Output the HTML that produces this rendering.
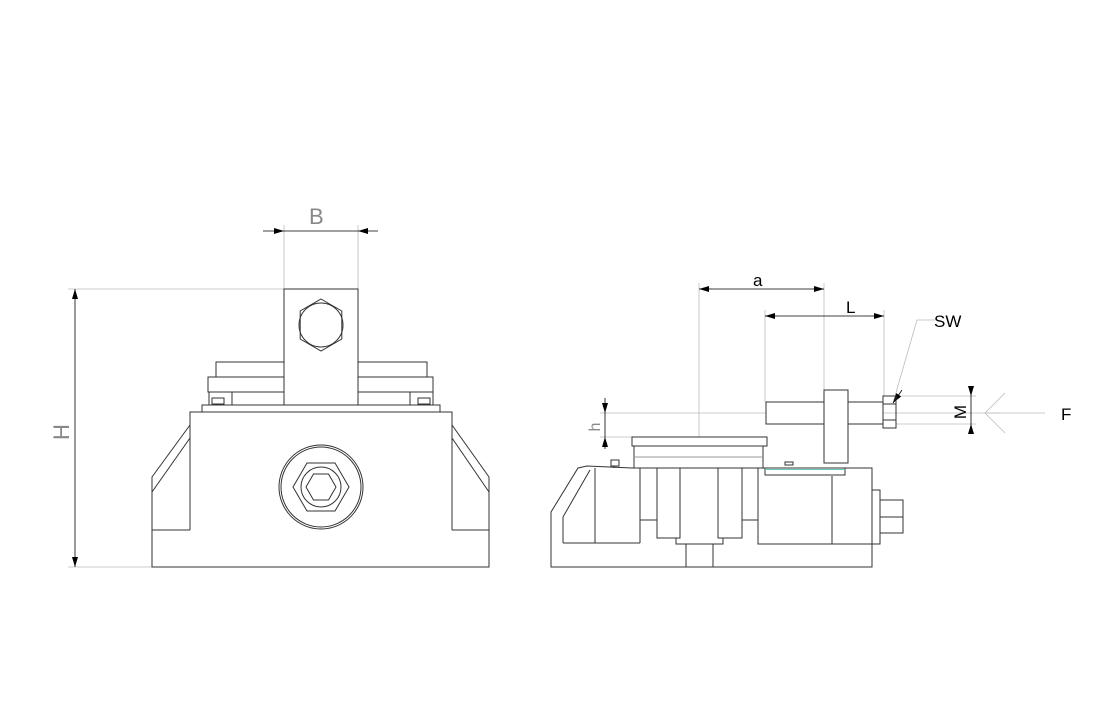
<!DOCTYPE html>
<html><head><style>
html,body{margin:0;padding:0;background:#fff;}
svg{display:block;}
text{font-family:"Liberation Sans",sans-serif;}
</style></head><body>
<svg width="1100" height="724" viewBox="0 0 1100 724" xmlns="http://www.w3.org/2000/svg">
<defs>
<marker id="ar" viewBox="0 0 10 6" refX="10" refY="3" markerWidth="14" markerHeight="6" markerUnits="userSpaceOnUse" orient="auto"><path d="M0,0 L10,3 L0,6 z" fill="#000"/></marker>
</defs>
<g fill="none" stroke="#bbb" stroke-width="0.8">
<line x1="68" y1="289" x2="284" y2="289"/>
<line x1="68" y1="567" x2="152" y2="567"/>
<line x1="284" y1="225" x2="284" y2="289"/>
<line x1="358" y1="225" x2="358" y2="289"/>
<line x1="699" y1="283" x2="699" y2="437"/>
<line x1="824" y1="283" x2="824" y2="390"/>
<line x1="765" y1="310" x2="765" y2="402"/>
<line x1="884" y1="310" x2="884" y2="396"/>
<line x1="600" y1="413" x2="1000" y2="413"/>
<line x1="600" y1="437" x2="632" y2="437"/>
<line x1="896" y1="396" x2="976" y2="396"/>
<line x1="896" y1="424" x2="976" y2="424"/>
<line x1="1005" y1="393" x2="985" y2="413"/>
<line x1="1005" y1="433" x2="985" y2="413"/>
<line x1="985" y1="413" x2="1045" y2="413"/>
<polyline points="935,320 917,320 893,403"/>
</g>
<g fill="none" stroke="#000" stroke-width="0.8">
<line x1="75" y1="300" x2="75" y2="289" marker-end="url(#ar)"/>
<line x1="75" y1="300" x2="75" y2="556"/>
<line x1="75" y1="556" x2="75" y2="567" marker-end="url(#ar)"/>
<line x1="263" y1="231" x2="284" y2="231" marker-end="url(#ar)"/>
<line x1="284" y1="231" x2="358" y2="231"/>
<line x1="378" y1="231" x2="358" y2="231" marker-end="url(#ar)"/>
<line x1="712" y1="289" x2="699" y2="289" marker-end="url(#ar)"/>
<line x1="712" y1="289" x2="811" y2="289"/>
<line x1="811" y1="289" x2="824" y2="289" marker-end="url(#ar)"/>
<line x1="778" y1="316" x2="765" y2="316" marker-end="url(#ar)"/>
<line x1="778" y1="316" x2="871" y2="316"/>
<line x1="871" y1="316" x2="884" y2="316" marker-end="url(#ar)"/>
<line x1="971" y1="386" x2="971" y2="396" marker-end="url(#ar)"/>
<line x1="971" y1="396" x2="971" y2="424"/>
<line x1="971" y1="434" x2="971" y2="424" marker-end="url(#ar)"/>
<line x1="605" y1="398" x2="605" y2="413" marker-end="url(#ar)"/>
<line x1="605" y1="413" x2="605" y2="437"/>
<line x1="605" y1="449" x2="605" y2="437" marker-end="url(#ar)"/>
<line x1="902" y1="390" x2="893" y2="403" marker-end="url(#ar)"/>
</g>
<g fill="none" stroke="#333" stroke-width="1">
<rect x="284" y="289" width="74" height="116" fill="#fff"/>
<polygon points="321,299 341.8,311 341.8,339 321,351 300.2,339 300.2,311"/>
<circle cx="321" cy="325" r="22"/>
<rect x="216" y="362" width="68" height="15"/>
<rect x="358" y="362" width="69" height="15"/>
<polyline points="284,377 208,377 208,392 284,392"/>
<polyline points="358,377 433,377 433,392 358,392"/>
<polyline points="209,405 209,392 232,392 232,405"/>
<rect x="212" y="398" width="12" height="6"/>
<polyline points="433,405 433,392 410,392 410,405"/>
<rect x="418" y="398" width="12" height="6"/>
<rect x="202" y="405" width="238" height="7"/>
<polyline points="190,530 190,412 452,412 452,530"/>
<polyline points="190,530 152,530 152,567 489,567 489,530 452,530"/>
<polyline points="152,530 152,477 190,425"/>
<line x1="152" y1="492" x2="190" y2="438"/>
<polyline points="489,530 489,477 452,425"/>
<line x1="489" y1="492" x2="452" y2="438"/>
<circle cx="321" cy="487" r="42"/>
<circle cx="321" cy="487" r="40"/>
<polygon points="293,487 307,463 335,463 349,487 335,511 307,511"/>
<circle cx="321" cy="487" r="20"/>
<polygon points="306,487 313.5,474 328.5,474 336,487 328.5,500 313.5,500"/>
<polyline points="632,468 587,466 578,468 551,512 551,567 872,567 872,468 845,468"/>
<line x1="563" y1="517" x2="590" y2="470"/>
<line x1="563" y1="517" x2="563" y2="543"/>
<line x1="563" y1="543" x2="640" y2="543"/>
<line x1="595" y1="468" x2="595" y2="543"/>
<line x1="640" y1="468" x2="640" y2="543"/>
<line x1="632" y1="468" x2="765" y2="468"/>
<line x1="640" y1="520" x2="657" y2="520"/>
<polyline points="657,468 657,538 680,538 680,468"/>
<polyline points="676,538 676,544 723,544 723,538"/>
<polyline points="718,468 718,538 742,538 742,468"/>
<line x1="742" y1="520" x2="758" y2="520"/>
<polyline points="758,468 758,544 872,544"/>
<line x1="832" y1="476" x2="832" y2="544"/>
<line x1="686" y1="544" x2="686" y2="567"/>
<line x1="713" y1="544" x2="713" y2="567"/>
<rect x="632" y="437" width="135" height="9"/>
<rect x="634" y="446" width="129" height="22"/>
<line x1="634" y1="457" x2="763" y2="457" stroke="#999"/>
<rect x="611" y="460" width="8" height="6"/>
<line x1="614" y1="466" x2="614" y2="468"/>
<rect x="765" y="468" width="80" height="7"/>
<line x1="765" y1="469.5" x2="845" y2="469.5" stroke="#6cb" />
<rect x="785" y="462" width="8" height="3"/>
<rect x="766" y="402" width="117" height="22" fill="#fff"/>
<rect x="824" y="390" width="24" height="73" fill="#fff"/>
<rect x="883" y="396" width="13" height="32"/>
<line x1="883" y1="404" x2="896" y2="404"/>
<line x1="883" y1="420" x2="896" y2="420"/>
<rect x="872" y="490" width="8" height="54"/>
<rect x="880" y="500" width="23" height="33"/>
<line x1="880" y1="517" x2="903" y2="517"/>
</g>
<g font-size="17" fill="#000">
<text x="753" y="286">a</text>
<text x="846" y="313">L</text>
<text x="934" y="327">SW</text>
<text x="1061" y="420">F</text>
<text transform="translate(966,412) rotate(-90)" text-anchor="middle">M</text>
</g>
<g font-size="22" fill="#888">
<text x="309" y="224">B</text>
<text transform="translate(69,432) rotate(-90)" text-anchor="middle">H</text>
<text transform="translate(600,427) rotate(-90)" text-anchor="middle" font-size="16">h</text>
</g>
</svg>
</body></html>
